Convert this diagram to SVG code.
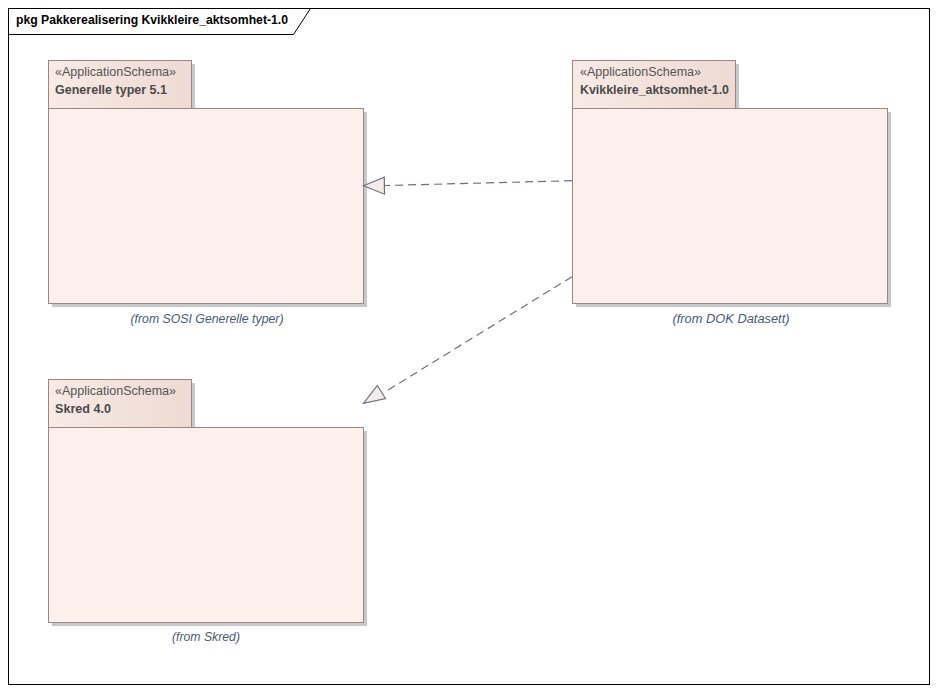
<svg xmlns="http://www.w3.org/2000/svg" width="938" height="692" viewBox="0 0 938 692">
<style>
.frame{fill:none;stroke:#000;stroke-width:1}
.tab{fill:url(#tabg);stroke:#9C8585;stroke-width:1}
.body{fill:#FBF0EC;stroke:#9C8585;stroke-width:1}
.shadow{fill:#C8C8C8}
.stereo{font-family:"Liberation Sans",Arial,sans-serif;font-size:12.5px;fill:#555555}
.name{font-family:"Liberation Sans",Arial,sans-serif;font-size:12.5px;font-weight:bold;fill:#4A4A4A}
.from{font-family:"Liberation Sans",Arial,sans-serif;font-size:12.5px;font-style:italic;fill:#4E5A74}
.title{font-family:"Liberation Sans",Arial,sans-serif;font-size:12.5px;font-weight:bold;fill:#000}
.conn{fill:none;stroke:#6B7089;stroke-width:1.2;stroke-dasharray:8,5}
.head{fill:#F7ECE8;stroke:#6B7089;stroke-width:1.2}
</style>
<defs>
<linearGradient id="tabg" x1="0" y1="0" x2="1" y2="0">
<stop offset="0" stop-color="#F8EAE5"/>
<stop offset="1" stop-color="#EEDAD3"/>
</linearGradient>
</defs>
<rect width="938" height="692" fill="#FFFFFF"/>
<g id="frame">
<rect class="frame" x="8.5" y="8.5" width="921" height="676"/>
<path class="frame" d="M8.5,34.5 H293.5 L310.5,8.5"/>
<text class="title" x="16" y="24" textLength="272" lengthAdjust="spacingAndGlyphs">pkg Pakkerealisering Kvikkleire_aktsomhet-1.0</text>
</g>
<g id="pkg-generelle">
<rect class="shadow" x="52" y="64" width="143" height="48"/>
<rect class="shadow" x="52" y="112" width="315" height="195"/>
<rect class="tab" x="48.5" y="60.5" width="143" height="48"/>
<rect class="body" x="48.5" y="108.5" width="315" height="195"/>
<text class="stereo" x="55" y="76" textLength="121" lengthAdjust="spacingAndGlyphs">«ApplicationSchema»</text>
<text class="name" x="55" y="94" textLength="112" lengthAdjust="spacingAndGlyphs">Generelle typer 5.1</text>
<text class="from" x="207" y="323" text-anchor="middle" textLength="153" lengthAdjust="spacingAndGlyphs">(from SOSI Generelle typer)</text>
</g>
<g id="pkg-kvikkleire">
<rect class="shadow" x="576" y="64" width="163" height="48"/>
<rect class="shadow" x="576" y="112" width="315" height="195"/>
<rect class="tab" x="572.5" y="60.5" width="163" height="48"/>
<rect class="body" x="572.5" y="108.5" width="315" height="195"/>
<text class="stereo" x="580" y="76" textLength="121" lengthAdjust="spacingAndGlyphs">«ApplicationSchema»</text>
<text class="name" x="580" y="94" textLength="149" lengthAdjust="spacingAndGlyphs">Kvikkleire_aktsomhet-1.0</text>
<text class="from" x="731" y="323" text-anchor="middle" textLength="117" lengthAdjust="spacingAndGlyphs">(from DOK Datasett)</text>
</g>
<g id="pkg-skred">
<rect class="shadow" x="52" y="383" width="143" height="48"/>
<rect class="shadow" x="52" y="431" width="315" height="195"/>
<rect class="tab" x="48.5" y="379.5" width="143" height="48"/>
<rect class="body" x="48.5" y="427.5" width="315" height="195"/>
<text class="stereo" x="55" y="395" textLength="121" lengthAdjust="spacingAndGlyphs">«ApplicationSchema»</text>
<text class="name" x="55" y="413" textLength="56" lengthAdjust="spacingAndGlyphs">Skred 4.0</text>
<text class="from" x="206" y="641" text-anchor="middle" textLength="68" lengthAdjust="spacingAndGlyphs">(from Skred)</text>
</g>
<g id="connectors">
<line class="conn" x1="572" y1="180.7" x2="385" y2="185.5"/>
<polygon class="head" points="363.5,185.7 384.3,177.2 384.5,194.2"/>
<line class="conn" x1="572" y1="276.7" x2="384" y2="392.5"/>
<polygon class="head" points="363.5,403.3 377.3,385.5 385.5,398.5"/>
</g>
</svg>
